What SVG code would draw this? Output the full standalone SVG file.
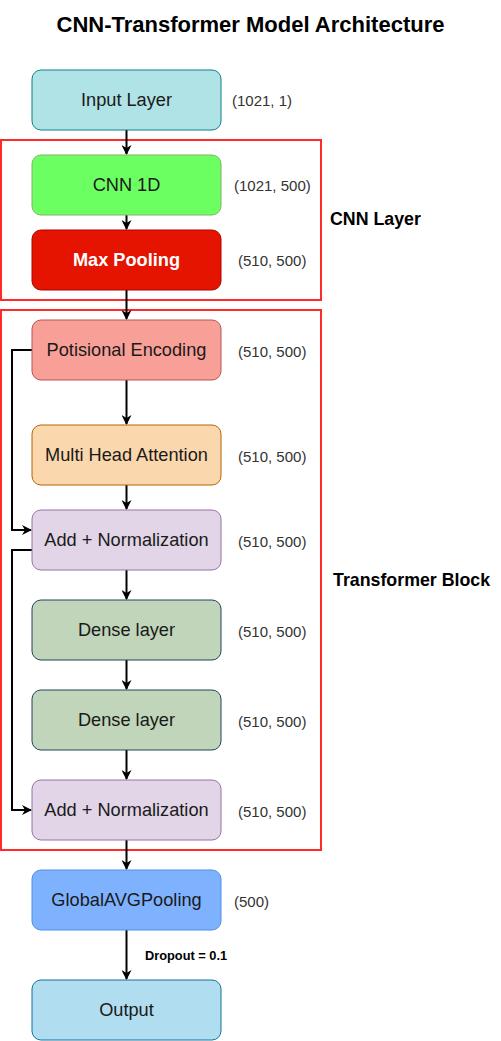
<svg xmlns="http://www.w3.org/2000/svg" width="501" height="1041" viewBox="0 0 501 1041">
<defs>
<marker id="arr" viewBox="0 0 10 10" refX="9" refY="5" markerWidth="10" markerHeight="10" markerUnits="userSpaceOnUse" orient="auto">
<path d="M0,0 L10,5 L0,10 L3,5 Z" fill="#000"/>
</marker>
<style>
text{font-family:"Liberation Sans",Arial,sans-serif;}
.lbl{font-size:18.2px;fill:#1a1a1a;text-anchor:middle;dominant-baseline:central;}
.dim{font-size:15px;fill:#333;dominant-baseline:central;}
.grp{font-size:17.8px;font-weight:bold;fill:#000;dominant-baseline:central;}
.edge{fill:none;stroke:#000;stroke-width:2;marker-end:url(#arr);}
.frame{fill:none;stroke:#ff2a2a;stroke-width:2;}
</style>
</defs>
<rect width="501" height="1041" fill="#fff"/>
<text x="250.5" y="24" text-anchor="middle" dominant-baseline="central" font-size="22" font-weight="bold">CNN-Transformer Model Architecture</text>

<g id="cnn-layer-frame"><rect class="frame" x="1" y="140" width="320" height="160"/><text class="grp" x="330" y="219">CNN Layer</text></g>
<g id="transformer-frame"><rect class="frame" x="1" y="310" width="320" height="540"/><text class="grp" x="333" y="580">Transformer Block</text></g>

<g id="connectors">
<path class="edge" d="M126.5,130 V154"/>
<path class="edge" d="M126.5,215 V229"/>
<path class="edge" d="M126.5,290 V319"/>
<path class="edge" d="M126.5,380 V424"/>
<path class="edge" d="M126.5,485 V509"/>
<path class="edge" d="M126.5,570 V599"/>
<path class="edge" d="M126.5,660 V689"/>
<path class="edge" d="M126.5,750 V779"/>
<path class="edge" d="M126.5,840 V869"/>
<path class="edge" d="M126.5,930 V979"/>
<path class="edge" d="M32,350 H12 V530 H31"/>
<path class="edge" d="M32,550 H12 V810 H31"/>
<text x="145" y="955" dominant-baseline="central" font-size="12.8" font-weight="bold">Dropout = 0.1</text>
</g>

<g id="input-layer"><rect x="32" y="70" width="189" height="60" rx="9" fill="#b0e3e6" stroke="#0e8088"/><text class="lbl" x="126.5" y="100">Input Layer</text><text class="dim" x="232" y="100">(1021, 1)</text></g>
<g id="cnn-1d"><rect x="32" y="155" width="189" height="60" rx="9" fill="#6cff62" stroke="#82b366"/><text class="lbl" x="126.5" y="185">CNN 1D</text><text class="dim" x="234" y="185">(1021, 500)</text></g>
<g id="max-pooling"><rect x="32" y="230" width="189" height="60" rx="9" fill="#e51400" stroke="#b20000"/><text class="lbl" x="126.5" y="260" style="fill:#fff;font-weight:bold">Max Pooling</text><text class="dim" x="238" y="260">(510, 500)</text></g>
<g id="positional-encoding"><rect x="32" y="320" width="189" height="60" rx="9" fill="#f8a097" stroke="#b85450"/><text class="lbl" x="126.5" y="350">Potisional Encoding</text><text class="dim" x="238" y="351">(510, 500)</text></g>
<g id="multi-head-attention"><rect x="32" y="425" width="189" height="60" rx="9" fill="#fad7ac" stroke="#b46504"/><text class="lbl" x="126.5" y="455">Multi Head Attention</text><text class="dim" x="238" y="456">(510, 500)</text></g>
<g id="add-norm-1"><rect x="32" y="510" width="189" height="60" rx="9" fill="#e1d5e7" stroke="#9673a6"/><text class="lbl" x="126.5" y="540">Add + Normalization</text><text class="dim" x="238" y="541">(510, 500)</text></g>
<g id="dense-1"><rect x="32" y="600" width="189" height="60" rx="9" fill="#c0d5b9" stroke="#23445d"/><text class="lbl" x="126.5" y="630">Dense layer</text><text class="dim" x="238" y="631">(510, 500)</text></g>
<g id="dense-2"><rect x="32" y="690" width="189" height="60" rx="9" fill="#c0d5b9" stroke="#23445d"/><text class="lbl" x="126.5" y="720">Dense layer</text><text class="dim" x="238" y="721">(510, 500)</text></g>
<g id="add-norm-2"><rect x="32" y="780" width="189" height="60" rx="9" fill="#e1d5e7" stroke="#9673a6"/><text class="lbl" x="126.5" y="810">Add + Normalization</text><text class="dim" x="238" y="811">(510, 500)</text></g>
<g id="global-avg-pooling"><rect x="32" y="870" width="189" height="60" rx="9" fill="#7eb2ff" stroke="#4f8ee8"/><text class="lbl" x="126.5" y="900">GlobalAVGPooling</text><text class="dim" x="234" y="901">(500)</text></g>
<g id="output"><rect x="32" y="980" width="189" height="60" rx="9" fill="#b1ddf0" stroke="#10739e"/><text class="lbl" x="126.5" y="1010">Output</text></g>
</svg>
